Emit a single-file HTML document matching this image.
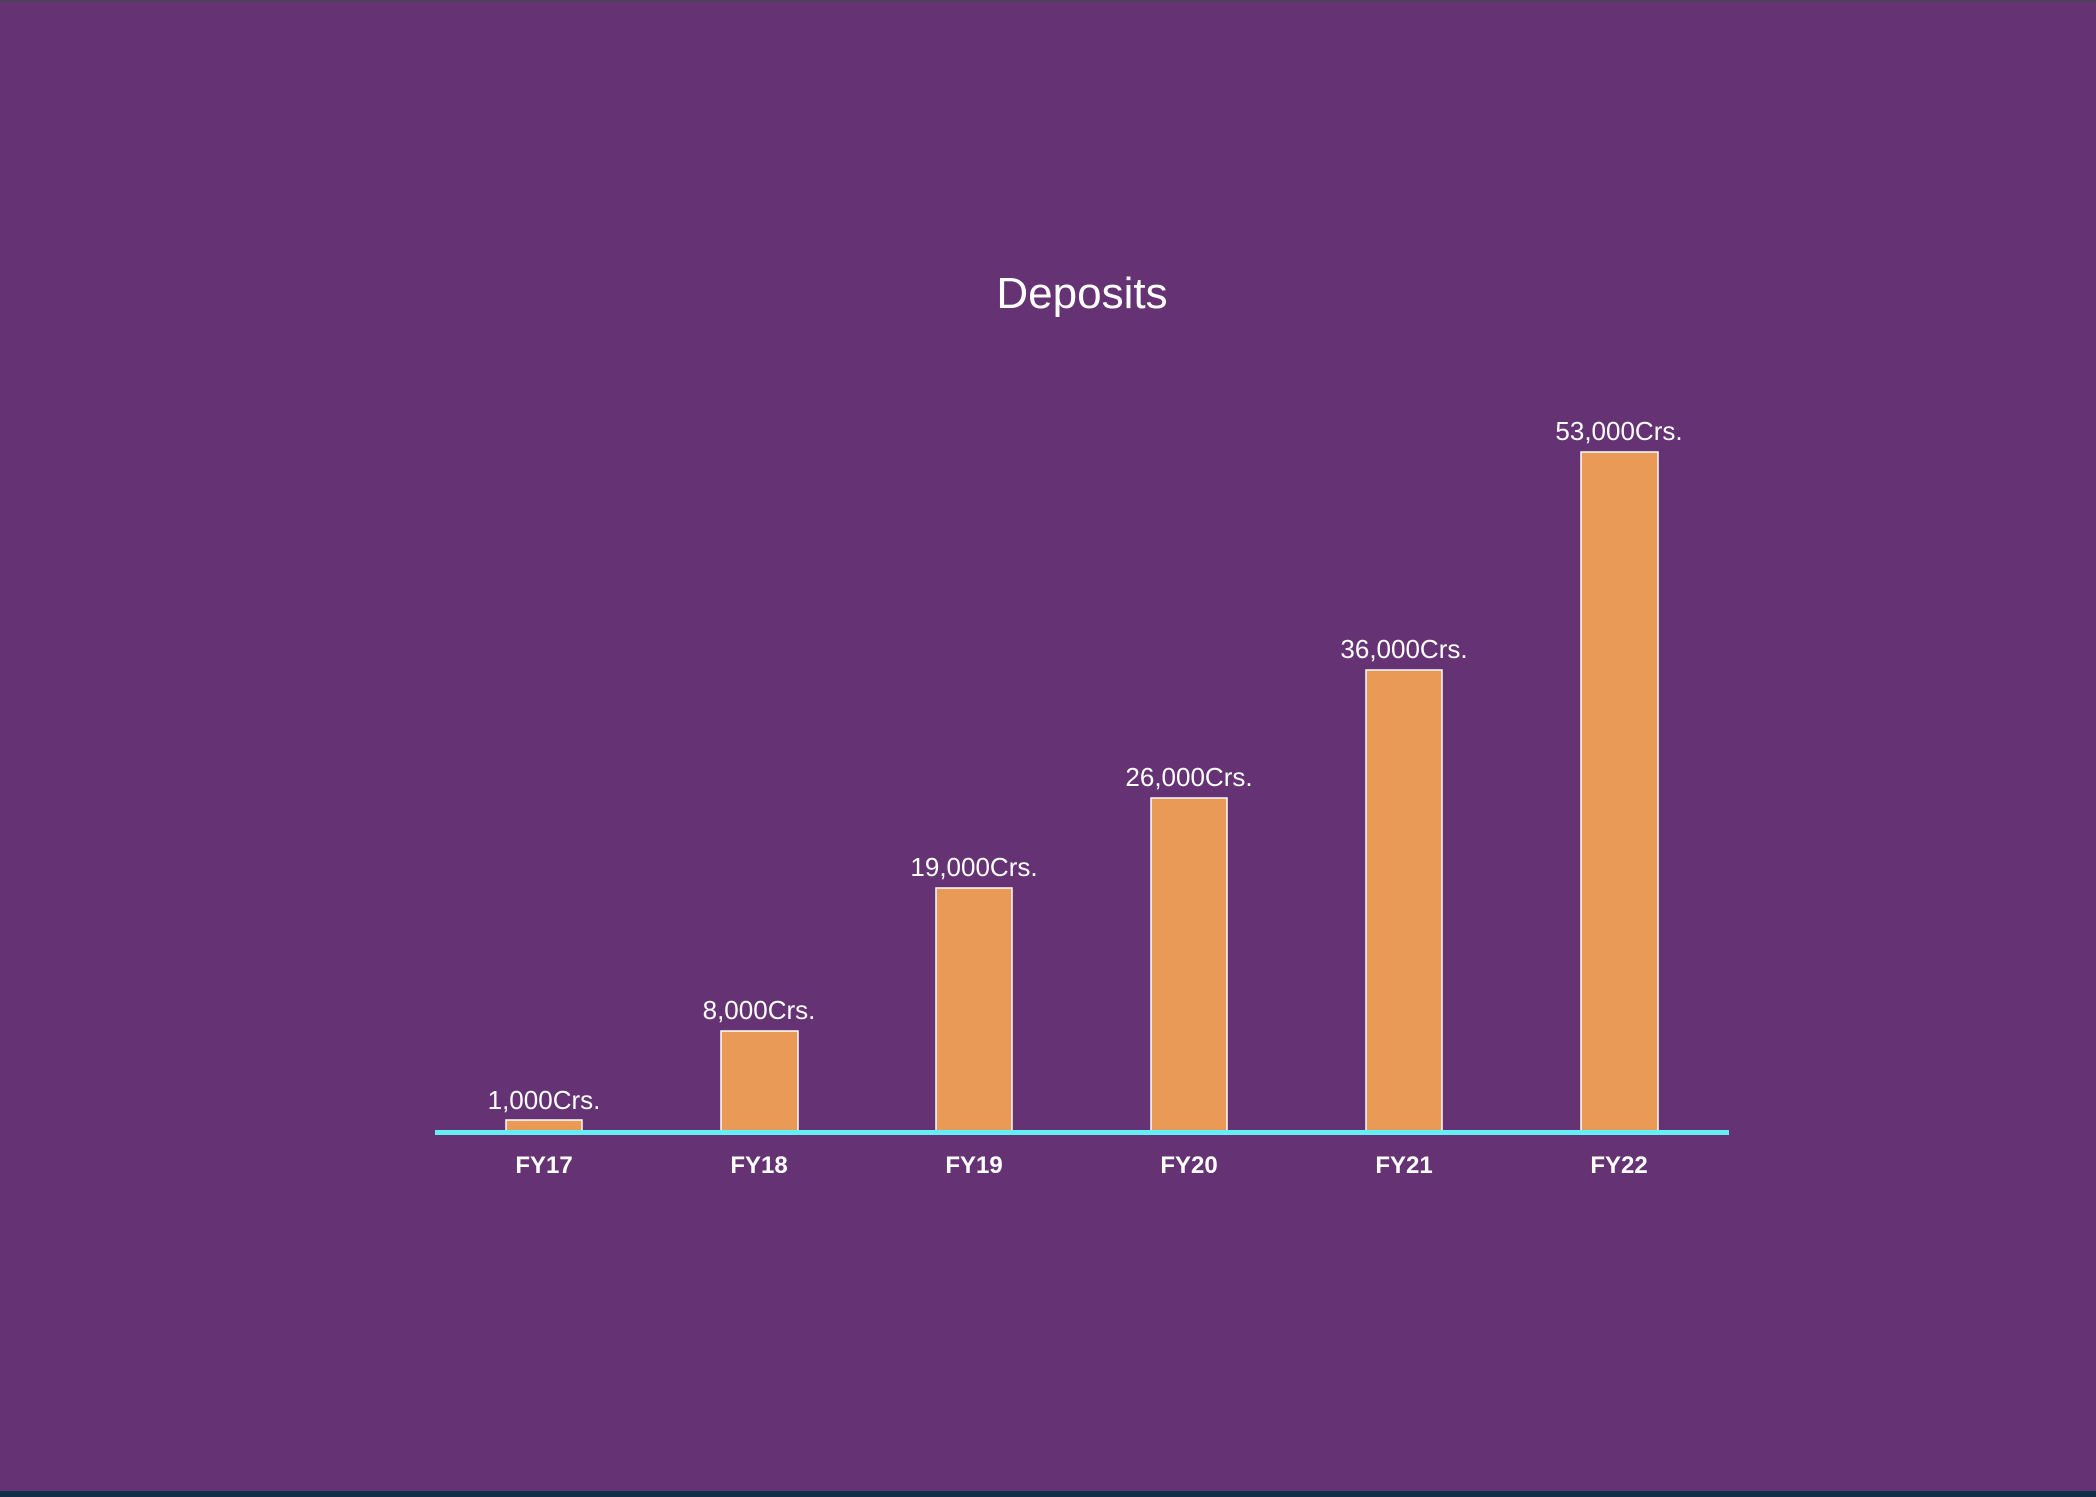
<!DOCTYPE html>
<html><head><meta charset="utf-8"><style>
html,body{margin:0;padding:0;background:#653273;}
svg{display:block}
</style></head><body>
<svg width="2096" height="1497" xmlns="http://www.w3.org/2000/svg" font-family="'Liberation Sans', sans-serif">
<rect x="0" y="0" width="2096" height="1497" fill="#653273"/>
<rect x="0" y="0" width="2096" height="2" fill="#4d4058"/>
<rect x="0" y="1491" width="2096" height="6" fill="#10304a"/>
<text x="1082" y="308" font-size="44" fill="#ffffff" text-anchor="middle">Deposits</text>
<g fill="#e99a57" stroke="#ffffff" stroke-width="1.5">
<rect x="506" y="1120" width="76" height="12"/>
<rect x="721" y="1031" width="77" height="101"/>
<rect x="936" y="888" width="76" height="244"/>
<rect x="1151" y="798" width="76" height="334"/>
<rect x="1366" y="670" width="76" height="462"/>
<rect x="1581" y="452" width="77" height="680"/>
</g>
<rect x="435" y="1130" width="1294" height="5" fill="#66eef5"/>
<g fill="#ffffff" font-size="26" text-anchor="middle">
<text x="544" y="1109">1,000Crs.</text>
<text x="759" y="1019">8,000Crs.</text>
<text x="974" y="876">19,000Crs.</text>
<text x="1189" y="786">26,000Crs.</text>
<text x="1404" y="658">36,000Crs.</text>
<text x="1619" y="440">53,000Crs.</text>
</g>
<g fill="#ffffff" font-size="24" font-weight="bold" text-anchor="middle">
<text x="544" y="1173">FY17</text>
<text x="759" y="1173">FY18</text>
<text x="974" y="1173">FY19</text>
<text x="1189" y="1173">FY20</text>
<text x="1404" y="1173">FY21</text>
<text x="1619" y="1173">FY22</text>
</g>
</svg>
</body></html>
